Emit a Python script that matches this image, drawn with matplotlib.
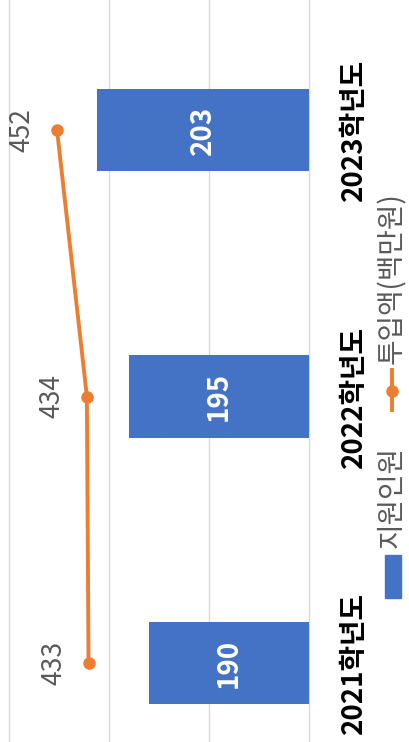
import numpy as np
import matplotlib
matplotlib.use("Agg")
import matplotlib.pyplot as plt
from matplotlib.patches import Rectangle
from matplotlib.lines import Line2D

plt.rcParams['font.family'] = ['Noto Sans CJK KR', 'DejaVu Sans']

# 데이터
years = ['2021학년도', '2022학년도', '2023학년도']
people = [190, 195, 203]          # 지원인원
budget = [433, 434, 452]          # 투입액(백만원)
bar_name = '지원인원'
line_name = '투입액(백만원)'

W, H = 409, 742
fig = plt.figure(figsize=(W / 100, H / 100), dpi=100)

def fx(px):
    return px / W

def fy(py_top):
    return 1 - py_top / H

# 차트 전체가 90도 회전된 형태: 값 축은 왼쪽으로 증가
ax = fig.add_axes([0, 0, fx(311), 1])
pos = np.arange(len(years))
base = 150
ax.barh(pos, np.array(people) - base, left=base, height=0.31,
        color='#4472C4', zorder=3)
for p, v in zip(pos, people):
    ax.text(base + (v - base) / 2, p, str(v), rotation=90, ha='center', va='center',
            color='white', fontsize=20, fontweight='bold', zorder=4)

ax.set_xlim(227.25, 149.5)
ax.set_ylim(-79 / 266.5, (H - 79) / 266.5)
ax.set_xticks([150, 175, 200, 225])
ax.xaxis.grid(True, color='#D9D9D9', linewidth=1.0, zorder=0)
ax.tick_params(axis='x', length=0, labelbottom=False)
ax.yaxis.tick_right()
ax.set_yticks(pos)
ax.set_yticklabels(years, rotation=90, va='center', ha='left',
                   fontsize=20, fontweight='bold', color='black')
ax.tick_params(axis='y', length=0, pad=21)
for s in ax.spines.values():
    s.set_visible(False)

# 보조축: 투입액
ax2 = ax.twiny()
ax2.set_xlim(486.4, 298.8)
ax2.plot(budget, pos, color='#ED7D31', linewidth=2.8, marker='o',
         markersize=8, zorder=5)
for p, v in zip(pos, budget):
    ax2.annotate(str(v), (v, p), xytext=(-35, 0), textcoords='offset pixels',
                 rotation=90, ha='center', va='center', color='#595959', fontsize=19)
ax2.set_xticks([])
for s in ax2.spines.values():
    s.set_visible(False)

# 범례 (회전)
fig.patches.append(Rectangle((fx(385), fy(598)), fx(16), 43 / H,
                             transform=fig.transFigure, color='#4472C4'))
fig.text(fx(392), fy(497), bar_name, rotation=90, ha='center', va='center',
         color='#595959', fontsize=20)
fig.add_artist(Line2D([fx(392), fx(392)], [fy(410), fy(370)], color='#ED7D31',
                      linewidth=2.8, transform=fig.transFigure))
fig.add_artist(Line2D([fx(392)], [fy(391)], color='#ED7D31', marker='o',
                      markersize=8, transform=fig.transFigure))
fig.text(fx(392), fy(278), line_name, rotation=90, ha='center', va='center',
         color='#595959', fontsize=20)

fig.savefig('out.png', dpi=100)
